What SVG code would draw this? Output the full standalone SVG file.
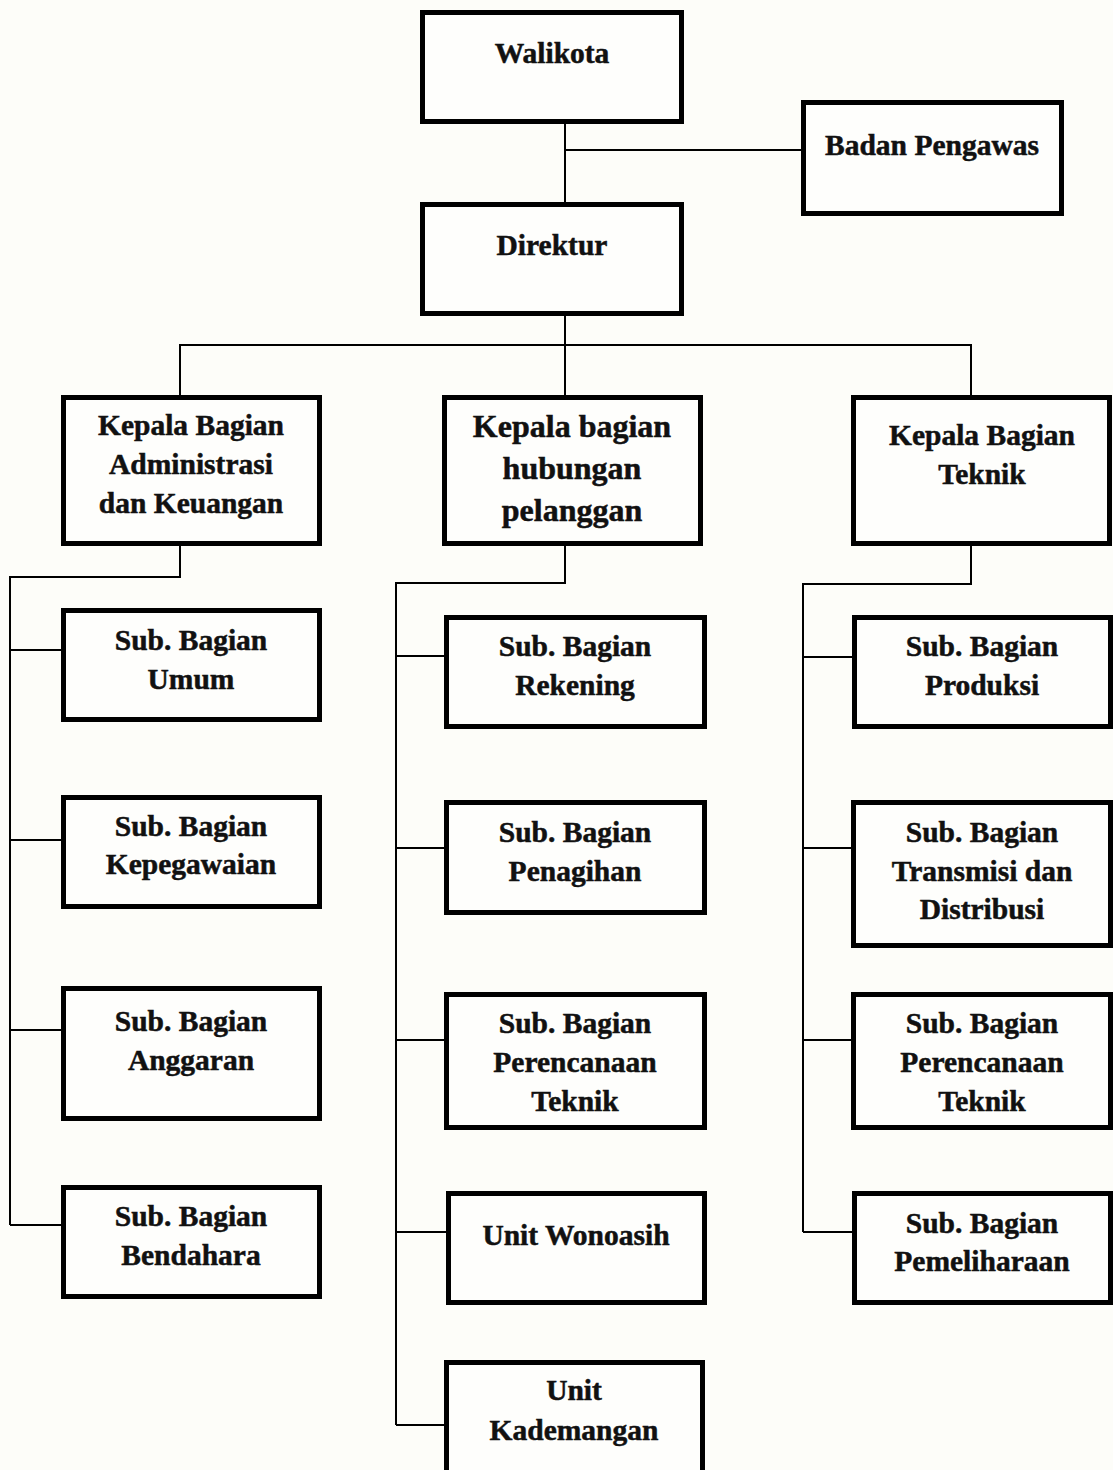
<svg xmlns="http://www.w3.org/2000/svg" width="1113" height="1470" viewBox="0 0 1113 1470">
  <style>
    .box { fill: #fefefc; stroke: #000; stroke-width: 5; }
    .lbl { font-family: "Liberation Serif", "Times New Roman", serif; font-weight: bold; font-size: 29.5px; fill: #111; stroke: #111; stroke-width: 0.5; text-anchor: middle; }
    .big { font-size: 32px; }
    .conn { fill: none; stroke: #000; stroke-width: 2; }
  </style>
  <rect x="0" y="0" width="1113" height="1470" fill="#fdfdf9"/>

  <!-- connectors -->
  <g id="connectors" class="conn">
    <path d="M565 124 V202"/>
    <path d="M565 150 H801"/>
    <path d="M565 316 V345"/>
    <path d="M180 395 V345 H971 V395"/>
    <path d="M565 345 V395"/>
    <!-- administrasi & keuangan branch -->
    <path d="M180 546 V577 H10 V1225"/>
    <path d="M10 650 H61"/>
    <path d="M10 840 H63"/>
    <path d="M10 1030 H61"/>
    <path d="M10 1225 H61"/>
    <!-- hubungan pelanggan branch -->
    <path d="M565 546 V583 H396 V1425"/>
    <path d="M396 656 H444"/>
    <path d="M396 848 H444"/>
    <path d="M396 1040 H444"/>
    <path d="M396 1232 H446"/>
    <path d="M396 1425 H444"/>
    <!-- teknik branch -->
    <path d="M971 546 V584 H803 V1232"/>
    <path d="M803 657 H852"/>
    <path d="M803 848 H856"/>
    <path d="M803 1040 H851"/>
    <path d="M803 1232 H852"/>
  </g>

  <g id="walikota">
    <rect class="box" x="422.5" y="12.5" width="259" height="109"/>
    <text class="lbl" x="552" y="63">Walikota</text>
  </g>
  <g id="badan-pengawas">
    <rect class="box" x="803.5" y="102.5" width="258" height="111"/>
    <text class="lbl" x="932" y="155">Badan Pengawas</text>
  </g>
  <g id="direktur">
    <rect class="box" x="422.5" y="204.5" width="259" height="109"/>
    <text class="lbl" x="552" y="255">Direktur</text>
  </g>

  <g id="kabag-administrasi">
    <rect class="box" x="63.5" y="397.5" width="256" height="146"/>
    <text class="lbl" x="191" y="435">Kepala Bagian</text>
    <text class="lbl" x="191" y="474">Administrasi</text>
    <text class="lbl" x="191" y="513">dan Keuangan</text>
  </g>
  <g id="kabag-hubungan">
    <rect class="box" x="444.5" y="397.5" width="256" height="146"/>
    <text class="lbl big" x="572" y="437">Kepala bagian</text>
    <text class="lbl big" x="572" y="479">hubungan</text>
    <text class="lbl big" x="572" y="521">pelanggan</text>
  </g>
  <g id="kabag-teknik">
    <rect class="box" x="853.5" y="397.5" width="256" height="146"/>
    <text class="lbl" x="982" y="445">Kepala Bagian</text>
    <text class="lbl" x="982" y="484">Teknik</text>
  </g>

  <!-- administrasi & keuangan units -->
  <g id="sub-umum">
    <rect class="box" x="63.5" y="610.5" width="256" height="109"/>
    <text class="lbl" x="191" y="650">Sub. Bagian</text>
    <text class="lbl" x="191" y="689">Umum</text>
  </g>
  <g id="sub-kepegawaian">
    <rect class="box" x="63.5" y="797.5" width="256" height="109"/>
    <text class="lbl" x="191" y="836">Sub. Bagian</text>
    <text class="lbl" x="191" y="874">Kepegawaian</text>
  </g>
  <g id="sub-anggaran">
    <rect class="box" x="63.5" y="988.5" width="256" height="130"/>
    <text class="lbl" x="191" y="1031">Sub. Bagian</text>
    <text class="lbl" x="191" y="1070">Anggaran</text>
  </g>
  <g id="sub-bendahara">
    <rect class="box" x="63.5" y="1187.5" width="256" height="109"/>
    <text class="lbl" x="191" y="1226">Sub. Bagian</text>
    <text class="lbl" x="191" y="1265">Bendahara</text>
  </g>

  <!-- hubungan pelanggan units -->
  <g id="sub-rekening">
    <rect class="box" x="446.5" y="617.5" width="258" height="109"/>
    <text class="lbl" x="575" y="656">Sub. Bagian</text>
    <text class="lbl" x="575" y="695">Rekening</text>
  </g>
  <g id="sub-penagihan">
    <rect class="box" x="446.5" y="802.5" width="258" height="110"/>
    <text class="lbl" x="575" y="842">Sub. Bagian</text>
    <text class="lbl" x="575" y="881">Penagihan</text>
  </g>
  <g id="sub-perencanaan-1">
    <rect class="box" x="446.5" y="994.5" width="258" height="133"/>
    <text class="lbl" x="575" y="1033">Sub. Bagian</text>
    <text class="lbl" x="575" y="1072">Perencanaan</text>
    <text class="lbl" x="575" y="1111">Teknik</text>
  </g>
  <g id="unit-wonoasih">
    <rect class="box" x="448.5" y="1193.5" width="256" height="109"/>
    <text class="lbl" x="576" y="1245">Unit Wonoasih</text>
  </g>
  <g id="unit-kademangan">
    <rect class="box" x="446.5" y="1362.5" width="256" height="120"/>
    <text class="lbl" x="574" y="1400">Unit</text>
    <text class="lbl" x="574" y="1440">Kademangan</text>
  </g>

  <!-- teknik units -->
  <g id="sub-produksi">
    <rect class="box" x="854.5" y="617.5" width="256" height="109"/>
    <text class="lbl" x="982" y="656">Sub. Bagian</text>
    <text class="lbl" x="982" y="695">Produksi</text>
  </g>
  <g id="sub-transmisi">
    <rect class="box" x="853.5" y="802.5" width="257" height="143"/>
    <text class="lbl" x="982" y="842">Sub. Bagian</text>
    <text class="lbl" x="982" y="881">Transmisi dan</text>
    <text class="lbl" x="982" y="919">Distribusi</text>
  </g>
  <g id="sub-perencanaan-2">
    <rect class="box" x="853.5" y="994.5" width="257" height="133"/>
    <text class="lbl" x="982" y="1033">Sub. Bagian</text>
    <text class="lbl" x="982" y="1072">Perencanaan</text>
    <text class="lbl" x="982" y="1111">Teknik</text>
  </g>
  <g id="sub-pemeliharaan">
    <rect class="box" x="854.5" y="1193.5" width="256" height="109"/>
    <text class="lbl" x="982" y="1233">Sub. Bagian</text>
    <text class="lbl" x="982" y="1271">Pemeliharaan</text>
  </g>
</svg>
